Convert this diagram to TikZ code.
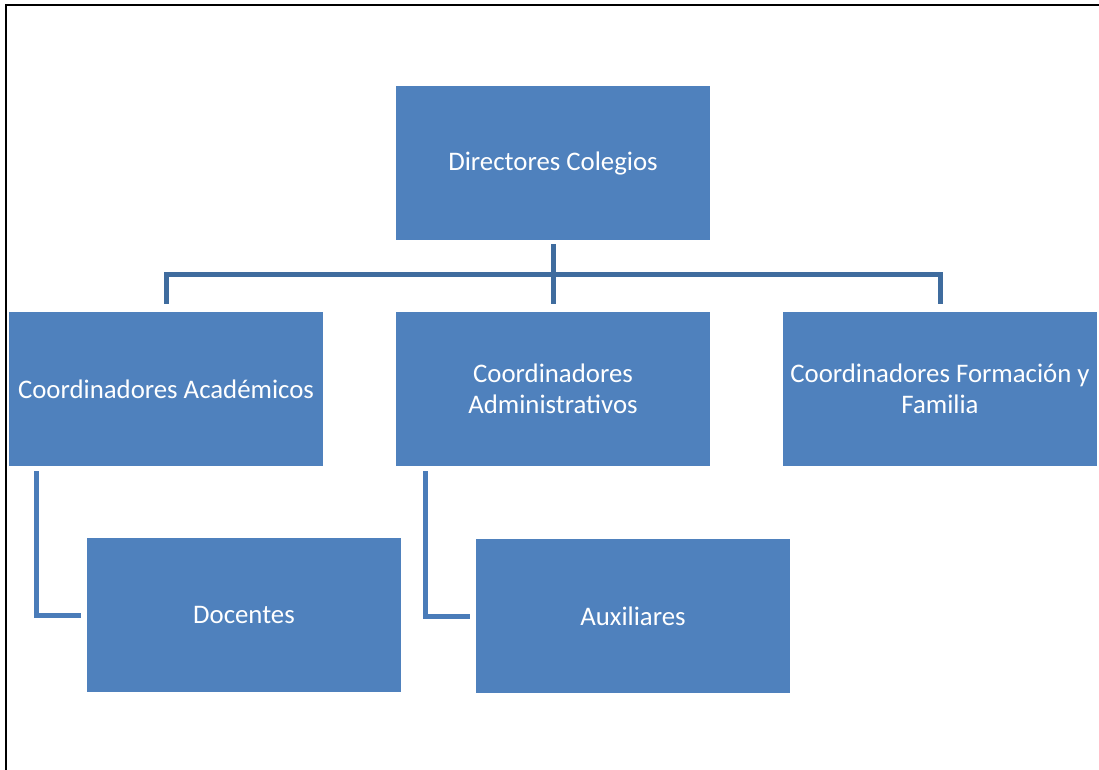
\documentclass[tikz,border=0pt]{standalone}
\usepackage{fontspec}
\setmainfont{Carlito}
\definecolor{boxblue}{HTML}{4F81BD}
\definecolor{trunkblue}{HTML}{3F6C9E}
\definecolor{branchblue}{HTML}{4A7CB9}
\tikzset{
  orgbox/.style={fill=boxblue, text=white, minimum width=314pt, minimum height=154pt,
    inner sep=2pt, align=center, font=\fontsize{26.8pt}{31pt}\selectfont},
  trunk/.style={draw=trunkblue, line width=5pt, line join=miter},
  branch/.style={draw=branchblue, line width=5pt, line join=miter}
}
\begin{document}
\begin{tikzpicture}[x=1pt,y=-1pt]
    \useasboundingbox (0,0) rectangle (1099,770);
    \draw[black, line width=2.5pt] (6,772) -- (6,5) -- (1101,5);

    \node[orgbox] (dir) at (553,163) {Directores Colegios};
    \node[orgbox] (aca) at (166,389) {Coordinadores Académicos};
    \node[orgbox] (adm) at (553,389) {Coordinadores\\Administrativos};
    \node[orgbox] (form) at (940,389) {Coordinadores Formación y\\Familia};
    \node[orgbox] (doc) at (244,615) {Docentes};
    \node[orgbox] (aux) at (633,616) {Auxiliares};

    \coordinate (bar) at (553,274);
    \draw[trunk] ([yshift=-4pt]dir.south) -- ([yshift=8pt]adm.north);
    \draw[trunk] ([yshift=8pt]aca.north) |- (bar) -| ([yshift=8pt]form.north);

    \draw[branch] ([xshift=28pt,yshift=-5pt]aca.south west) |- ([xshift=-6pt]doc.west);
    \draw[branch] ([xshift=30pt,yshift=-5pt]adm.south west) |- ([xshift=-6pt]aux.west);
\end{tikzpicture}
\end{document}
